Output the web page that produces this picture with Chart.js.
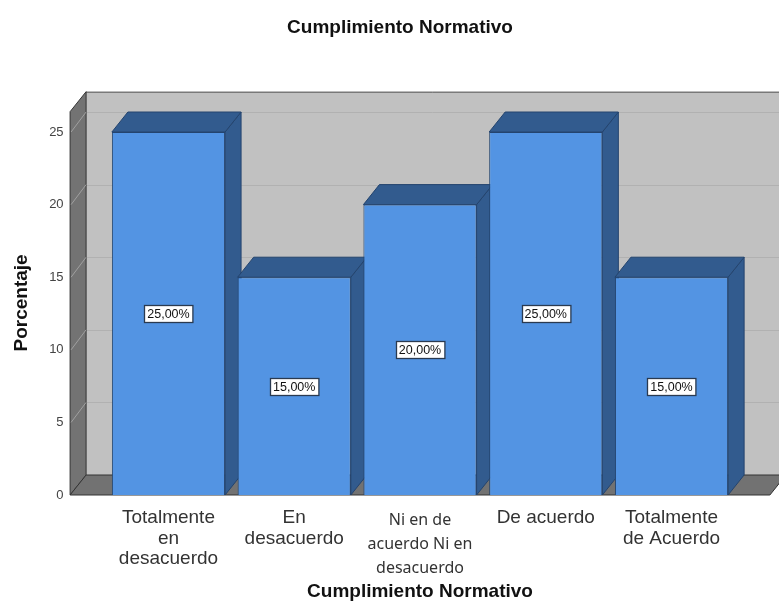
<!DOCTYPE html>
<html>
<head>
<meta charset="utf-8">
<script src="https://cdn.jsdelivr.net/npm/chart.js@4/dist/chart.umd.min.js"></script>
<style>
  html, body { margin: 0; padding: 0; background: #fff; }
  #wrap { width: 779px; height: 603px; }
</style>
</head>
<body>
<div id="wrap"><canvas id="chart"></canvas></div>
<script>
const categorias = [
  ['Totalmente', 'en', 'desacuerdo'],
  ['En', 'desacuerdo'],
  ['Ni en de', 'acuerdo Ni en', 'desacuerdo'],
  ['De acuerdo'],
  ['Totalmente', 'de Acuerdo']
];
const porcentajes = [25, 15, 20, 25, 15];
const yTicks = [0, 5, 10, 15, 20, 25];
const wallTop = 26.4;   // height of the walls, in axis units

// 3D look (SPSS style)
const DX = 16, DY = -20;
const BAR_FRONT = '#5394e3';
const BAR_SIDE = '#325b8e';
const BAR_EDGE = '#24446e';

function poly(ctx, pts, fill, stroke) {
  ctx.beginPath();
  ctx.moveTo(pts[0][0], pts[0][1]);
  pts.slice(1).forEach(p => ctx.lineTo(p[0], p[1]));
  ctx.closePath();
  ctx.fillStyle = fill;
  ctx.fill();
  if (stroke) { ctx.strokeStyle = stroke; ctx.lineWidth = 1; ctx.stroke(); }
}

const box3d = {
  id: 'box3d',
  beforeDatasetsDraw(chart) {
    const { ctx, chartArea, scales } = chart;
    const y = scales.y;
    const x0 = chartArea.left - 35.5;
    const x1 = chartArea.right + 35.5;
    const yBase = y.getPixelForValue(0);
    const yTop = y.getPixelForValue(wallTop);
    ctx.save();
    // back wall
    poly(ctx, [[x0 + DX, yTop + DY], [chart.width + 10, yTop + DY], [chart.width + 10, yBase + DY], [x0 + DX, yBase + DY]], '#c1c1c1');
    // back grid lines
    ctx.strokeStyle = '#b1b1b1';
    ctx.lineWidth = 1;
    yTicks.slice(1).forEach(v => {
      const py = Math.round(y.getPixelForValue(v) + DY) + 0.5;
      ctx.beginPath(); ctx.moveTo(x0 + DX, py); ctx.lineTo(chart.width, py); ctx.stroke();
    });
    // top edge of back wall
    ctx.strokeStyle = '#555';
    ctx.beginPath(); ctx.moveTo(x0 + DX, yTop + DY + 0.5); ctx.lineTo(chart.width, yTop + DY + 0.5); ctx.stroke();
    // left wall
    poly(ctx, [[x0, yTop], [x0 + DX, yTop + DY], [x0 + DX, yBase + DY], [x0, yBase]], '#737373', '#333');
    ctx.strokeStyle = '#a0a0a0';
    yTicks.slice(1).forEach(v => {
      const py = y.getPixelForValue(v);
      ctx.beginPath(); ctx.moveTo(x0 + 1, py); ctx.lineTo(x0 + DX, py + DY); ctx.stroke();
    });
    // floor
    poly(ctx, [[x0, yBase], [x0 + DX, yBase + DY], [x1 + DX, yBase + DY], [x1, yBase]], '#727272', '#333');
    // bar sides and tops
    const meta = chart.getDatasetMeta(0);
    meta.data.forEach(bar => {
      const l = bar.x - bar.width / 2, r = bar.x + bar.width / 2;
      const t = bar.y, b = bar.base;
      poly(ctx, [[r, t], [r + DX, t + DY], [r + DX, b + DY], [r, b]], BAR_SIDE, BAR_EDGE);
      poly(ctx, [[l, t], [l + DX, t + DY], [r + DX, t + DY], [r, t]], BAR_SIDE, BAR_EDGE);
    });
    ctx.restore();
  },
  afterDatasetsDraw(chart) {
    const { ctx } = chart;
    const meta = chart.getDatasetMeta(0);
    ctx.save();
    ctx.font = '12.5px Arial, "Liberation Sans", sans-serif';
    ctx.textAlign = 'center';
    ctx.textBaseline = 'middle';
    meta.data.forEach((bar, i) => {
      const txt = porcentajes[i].toFixed(2).replace('.', ',') + '%';
      const cy = (bar.y + bar.base) / 2;
      const w = ctx.measureText(txt).width + 6, h = 17;
      const bx = Math.round(bar.x - w / 2) + 0.5, by = Math.round(cy - h / 2) + 0.5;
      ctx.fillStyle = '#fff';
      ctx.strokeStyle = '#2a3a50';
      ctx.lineWidth = 1.3;
      ctx.fillRect(bx, by, w, h);
      ctx.strokeRect(bx, by, w, h);
      ctx.fillStyle = '#111';
      ctx.fillText(txt, bar.x, cy + 1);
    });
    ctx.restore();
  }
};

new Chart(document.getElementById('chart'), {
  type: 'bar',
  data: {
    labels: categorias,
    datasets: [{
      data: porcentajes,
      backgroundColor: BAR_FRONT,
      borderColor: BAR_EDGE,
      borderWidth: 1,
      categoryPercentage: 1,
      barPercentage: 0.9
    }]
  },
  options: {
    responsive: true,
    maintainAspectRatio: false,
    animation: false,
    layout: { padding: { left: 21, right: 0, top: 0, bottom: 0 } },
    plugins: {
      legend: { display: false },
      tooltip: { enabled: false },
      title: {
        display: true,
        text: 'Cumplimiento Normativo',
        color: '#111',
        font: { family: 'Arial, "Liberation Sans", sans-serif', size: 19, weight: 'bold' },
        padding: { top: 16.6, bottom: 92.6 }
      }
    },
    scales: {
      x: {
        grid: { display: false },
        border: { display: false },
        ticks: {
          color: '#333',
          maxRotation: 0,
          autoSkip: false,
          padding: 5,
          font: ctx => ctx.index === 2
            ? { family: '"Noto Sans", sans-serif', size: 16, lineHeight: '24px' }
            : { family: 'Arial, "Liberation Sans", sans-serif', size: 19, lineHeight: '20.5px' }
        },
        title: {
          display: true,
          text: 'Cumplimiento Normativo',
          color: '#111',
          font: { family: 'Arial, "Liberation Sans", sans-serif', size: 19, weight: 'bold' },
          padding: { top: 0, bottom: 0 }
        },
        afterFit: s => { s.height = 108; }
      },
      y: {
        min: 0,
        max: 25,
        grid: { display: false, drawTicks: false },
        border: { display: false },
        afterBuildTicks: s => { s.ticks = yTicks.map(v => ({ value: v })); },
        ticks: {
          color: '#444',
          padding: 42,
          font: { family: 'Arial, "Liberation Sans", sans-serif', size: 13 }
        },
        title: {
          display: true,
          text: '\u00a0\u00a0\u00a0\u00a0Porcentaje',
          color: '#111',
          font: { family: 'Arial, "Liberation Sans", sans-serif', size: 19, weight: 'bold', lineHeight: '2px' },
          padding: { top: 0, bottom: 0 }
        },
        afterFit: s => { s.width = 84.6; }
      },
      y2: {
        position: 'right',
        display: true,
        grid: { display: false, drawTicks: false },
        border: { display: false },
        ticks: { display: false },
        afterFit: s => { s.width = 44.6; }
      }
    }
  },
  plugins: [box3d]
});
</script>
</body>
</html>
